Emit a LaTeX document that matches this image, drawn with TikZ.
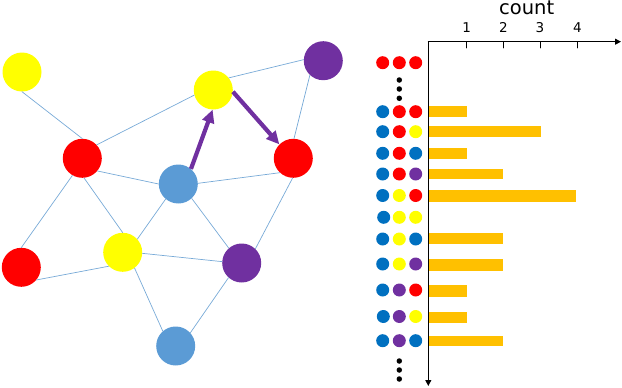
\documentclass[tikz,border=0pt]{standalone}
\usepackage{fontspec}
\setmainfont{DejaVu Sans}
\usetikzlibrary{arrows.meta}
\definecolor{vblue}{RGB}{91,155,213}
\definecolor{sblue}{RGB}{0,112,192}
\definecolor{vred}{RGB}{255,0,0}
\definecolor{vyellow}{RGB}{255,255,0}
\definecolor{vpurple}{RGB}{112,48,160}
\definecolor{barorange}{RGB}{255,192,0}
\definecolor{linkblue}{RGB}{120,170,215}

\begin{document}
\begin{tikzpicture}[x=1pt,y=-1pt,>={Triangle[length=6pt,width=6pt]},line cap=round,
  vtx/.style={circle,fill=#1,minimum size=39pt,inner sep=0pt},
  seqdot/.style={circle,fill=#1,minimum size=13pt,inner sep=0pt},
  ell/.style={circle,fill=black,minimum size=5.5pt,inner sep=0pt},
  ticklab/.style={anchor=base,font=\fontsize{13.5}{15}\selectfont},
  link/.style={linkblue,line width=0.7pt},
  walk/.style={draw=vpurple,line width=4.2pt,line cap=butt,-{Triangle[length=13pt,width=12pt]}}]
\useasboundingbox (0,0) rectangle (622,388);
% graph
\node[vtx=vyellow] (y1) at (22,72) {};
\node[vtx=vpurple] (p1) at (323.3,60.7) {};
\node[vtx=vyellow] (y2) at (213.3,90) {};
\node[vtx=vred] (r1) at (82.3,158.3) {};
\node[vtx=vblue] (b1) at (178.3,184) {};
\node[vtx=vred] (r2) at (293.3,158.3) {};
\node[vtx=vred] (r3) at (21.3,267.3) {};
\node[vtx=vyellow] (y3) at (122.7,252.3) {};
\node[vtx=vpurple] (p2) at (241.7,263) {};
\node[vtx=vblue] (b2) at (175.7,346) {};
\draw[link] (y1.south) -- (r1.north);
\draw[link] (r1.43) -- (y2.195);
\draw[link] (y2.38) -- (p1.177);
\draw[link] (p1.-133) -- (r2.88);
\draw[link] (r1.-40) -- (b1.180);
\draw[link] (b1.2) -- (r2.-133);
\draw[link] (r1.-120) -- (r3.north);
\draw[link] (r1.-85) -- (y3.north);
\draw[link] (r3.-40) -- (y3.-135);
\draw[link] (y3.42) -- (b1.-130);
\draw[link] (b1.-47) -- (p2.131);
\draw[link] (r2.-92) -- (p2.46);
\draw[link] (y3.-3) -- (p2.176);
\draw[link] (y3.-53) -- (b2.131);
\draw[link] (p2.-132) -- (b2.42);
\draw[walk] (b1.50) -- (y2.-92);
\draw[walk] (y2.-5) -- (r2.135);
% axes
\coordinate (origin) at (428.3,41.7);
\coordinate (xend) at (621,41.7);
\coordinate (yend) at (428.3,386);
\draw[->,line width=1pt] (origin) -- (xend);
\draw[->,line width=1pt] (origin) -- (yend);
\node[font=\fontsize{19.5}{21}\selectfont,anchor=base] (lab) at (526.7,14.6) {count};
\draw[line width=0.6pt] (466.7,41.7) -- (466.7,48);
\draw[line width=0.6pt] (503.3,41.7) -- (503.3,48);
\draw[line width=0.6pt] (540,41.7) -- (540,48);
\draw[line width=0.6pt] (577.3,41.7) -- (577.3,48);
\node[ticklab] (n1) at (466.7,32.3) {1};
\node[ticklab] (n2) at (503.3,32.3) {2};
\node[ticklab] (n3) at (540,32.3) {3};
\node[ticklab] (n4) at (577.3,32.3) {4};
% bars
\fill[barorange] (428.8,106.4) rectangle (466.7,117);
\fill[barorange] (428.8,126.4) rectangle (540.7,137);
\fill[barorange] (428.8,148) rectangle (466.7,158.6);
\fill[barorange] (428.8,168.7) rectangle (503.3,179.3);
\fill[barorange] (428.8,190) rectangle (576,201.5);
\fill[barorange] (428.8,233) rectangle (503.3,244.2);
\fill[barorange] (428.8,259.2) rectangle (503.3,270.5);
\fill[barorange] (428.8,285.2) rectangle (466.7,296.5);
\fill[barorange] (428.8,311.8) rectangle (466.7,323.2);
\fill[barorange] (428.8,335.5) rectangle (503.3,346);
% sequences
\node[seqdot=vred] (c1a) at (382.7,62.7) {}; \node[seqdot=vred] (c1b) at (399.3,62.7) {}; \node[seqdot=vred] (c1c) at (415.7,62.7) {};
\node[ell] (d1) at (399.3,80) {}; \node[ell] (d2) at (399.3,89) {}; \node[ell] (d3) at (399.3,98.3) {};
\node[seqdot=sblue] (c2a) at (382.7,111.7) {}; \node[seqdot=vred] (c2b) at (399.3,111.7) {}; \node[seqdot=vred] (c2c) at (415.7,111.7) {};
\node[seqdot=sblue] (c3a) at (382.7,131.7) {}; \node[seqdot=vred] (c3b) at (399.3,131.7) {}; \node[seqdot=vyellow] (c3c) at (415.7,131.7) {};
\node[seqdot=sblue] (c4a) at (382.7,153.3) {}; \node[seqdot=vred] (c4b) at (399.3,153.3) {}; \node[seqdot=sblue] (c4c) at (415.7,153.3) {};
\node[seqdot=sblue] (c5a) at (382.7,174) {}; \node[seqdot=vred] (c5b) at (399.3,174) {}; \node[seqdot=vpurple] (c5c) at (415.7,174) {};
\node[seqdot=sblue] (c6a) at (382.7,195.5) {}; \node[seqdot=vyellow] (c6b) at (399.3,195.5) {}; \node[seqdot=vred] (c6c) at (415.7,195.5) {};
\node[seqdot=sblue] (c7a) at (383.7,217.3) {}; \node[seqdot=vyellow] (c7b) at (399.3,217.3) {}; \node[seqdot=vyellow] (c7c) at (415.7,217.3) {};
\node[seqdot=sblue] (c8a) at (382.7,239) {}; \node[seqdot=vyellow] (c8b) at (399.3,239) {}; \node[seqdot=sblue] (c8c) at (415.7,239) {};
\node[seqdot=sblue] (c9a) at (382.7,264) {}; \node[seqdot=vyellow] (c9b) at (399.3,264) {}; \node[seqdot=vpurple] (c9c) at (415.7,264) {};
\node[seqdot=sblue] (c10a) at (382.7,290) {}; \node[seqdot=vpurple] (c10b) at (399.3,290) {}; \node[seqdot=vred] (c10c) at (415.7,290) {};
\node[seqdot=sblue] (c11a) at (383.3,316.5) {}; \node[seqdot=vpurple] (c11b) at (399.3,316.5) {}; \node[seqdot=vyellow] (c11c) at (415.7,316.5) {};
\node[seqdot=sblue] (c12a) at (382.7,340.7) {}; \node[seqdot=vpurple] (c12b) at (399.3,340.7) {}; \node[seqdot=sblue] (c12c) at (415.7,340.7) {};
\node[ell] (d4) at (399.3,361) {}; \node[ell] (d5) at (399.3,370) {}; \node[ell] (d6) at (399.3,379) {};
\end{tikzpicture}
\end{document}
